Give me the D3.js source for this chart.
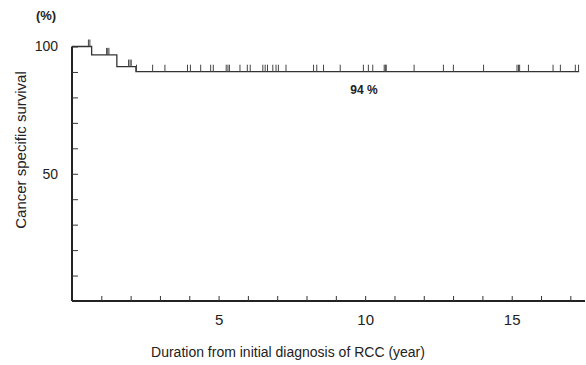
<!DOCTYPE html>
<html>
<head>
<meta charset="utf-8">
<script src="https://cdn.jsdelivr.net/npm/d3@7"></script>
<style>
  body{margin:0;background:#fff;}
  text{font-family:"Liberation Sans",Arial,sans-serif;fill:#222;}
</style>
</head>
<body>
<svg id="chart" width="586" height="365"></svg>
<script>
// KM step points: [year, survival %]
var stepTimes = [0, 0.67, 1.53, 2.18];
var stepSurv = [100, 96.7, 92.1, 90.1];
var lastTime = 17.3;
// censored cases (year)
var censored = [0.56,0.61,1.18,1.22,1.26,1.93,1.98,2.02,2.2,2.75,3.17,3.94,4.04,4.39,4.73,4.82,
  5.26,5.32,5.37,5.73,5.98,6.08,6.51,6.59,6.67,6.85,6.96,7.04,7.30,8.24,8.35,8.58,9.15,9.94,
  10.11,10.26,10.65,10.69,10.72,11.67,12.67,13.01,14.04,15.18,15.23,15.27,15.57,16.41,16.66,17.17,17.28];
var xLabels = [5,10,15];
var yLabels = [50,100];

var svg = d3.select('#chart');
var x = d3.scaleLinear().domain([0,17.5]).range([72,585]);
var y = d3.scaleLinear().domain([0,100]).range([301,46.5]);

function survAt(t){
  var s = stepSurv[0];
  for (var i=0;i<stepTimes.length;i++){ if (t>=stepTimes[i]) s = stepSurv[i]; }
  return s;
}

// axes
var xAxis = svg.append('g').attr('transform','translate(0,'+y(0)+')')
  .call(d3.axisBottom(x).tickValues(d3.range(1,18)).tickSize(-5).tickFormat(function(d){return xLabels.indexOf(d)>=0?d:'';}).tickPadding(13));
xAxis.select('.domain').attr('d','M72,0H585').attr('stroke','#222').attr('stroke-width',2);
xAxis.selectAll('.tick line').attr('stroke','#333');
xAxis.selectAll('text').attr('font-size',15).attr('fill','#222');

var yAxis = svg.append('g').attr('transform','translate('+x(0)+',0)')
  .call(d3.axisLeft(y).tickValues(d3.range(10,101,10)).tickSize(-6).tickFormat(function(d){return yLabels.indexOf(d)>=0?d:'';}).tickPadding(14));
yAxis.select('.domain').attr('d','M0,'+y(0)+'V'+y(100)).attr('stroke','#222').attr('stroke-width',2);
yAxis.selectAll('.tick line').attr('stroke','#333');
yAxis.selectAll('text').attr('font-size',14).attr('fill','#222');

// survival curve
var pts = [];
stepTimes.forEach(function(t,i){
  if (i>0) pts.push([t, stepSurv[i-1]]);
  pts.push([t, stepSurv[i]]);
});
pts.push([lastTime, stepSurv[stepSurv.length-1]]);
svg.append('path')
  .attr('d', d3.line().x(function(d){return x(d[0]);}).y(function(d){return y(d[1]);})(pts))
  .attr('fill','none').attr('stroke','#333').attr('stroke-width',1.3);

// censor marks
svg.selectAll('.cens').data(censored).enter().append('line')
  .attr('class','cens')
  .attr('x1',function(d){return x(d);}).attr('x2',function(d){return x(d);})
  .attr('y1',function(d){return y(survAt(d));})
  .attr('y2',function(d){return y(survAt(d))-7;})
  .attr('stroke','#444').attr('stroke-width',1);

// labels
svg.append('text').attr('x',46).attr('y',20).attr('text-anchor','middle')
  .attr('font-size',13).attr('font-weight','bold').text('(%)');
svg.append('text').attr('x',364).attr('y',94).attr('text-anchor','middle')
  .attr('font-size',12).attr('font-weight','bold').text('94 %');
svg.append('text').attr('transform','translate(26,150) rotate(-90)')
  .attr('text-anchor','middle').attr('font-size',15).text('Cancer specific survival');
svg.append('text').attr('x',288).attr('y',357).attr('text-anchor','middle')
  .attr('font-size',14).text('Duration from initial diagnosis of RCC (year)');
</script>
</body>
</html>
